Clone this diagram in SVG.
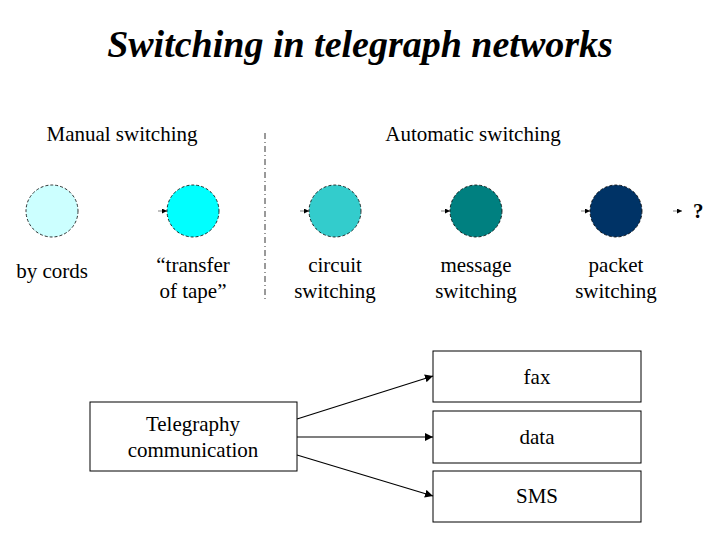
<svg xmlns="http://www.w3.org/2000/svg" width="720" height="540" viewBox="0 0 720 540">
<style>
text{font-family:'Liberation Serif','Times New Roman','DejaVu Serif',serif;fill:#000}
.l{font-size:21px;text-anchor:middle}
.c{stroke:#000;stroke-width:0.8;stroke-dasharray:3,2}
.b{fill:#fff;stroke:#000;stroke-width:1}
.a{stroke:#000;stroke-width:1.2;fill:none;marker-end:url(#m)}
</style>
<defs><marker id="m" viewBox="0 0 10 10" refX="10" refY="5" markerWidth="8" markerHeight="8" markerUnits="userSpaceOnUse" orient="auto"><path d="M0,0L10,5L0,10z" fill="#000"/></marker>
<marker id="s" viewBox="0 0 10 10" refX="10" refY="5" markerWidth="5" markerHeight="5" markerUnits="userSpaceOnUse" orient="auto"><path d="M0,0L10,5L0,10z" fill="#000"/></marker></defs>
<rect width="720" height="540" fill="#fff"/>
<text x="360" y="57" text-anchor="middle" font-size="38" font-weight="bold" font-style="italic" font-family="Liberation Serif, serif">Switching in telegraph networks</text>
<text x="122" y="141" class="l" font-family="Liberation Serif, serif">Manual switching</text>
<text x="473" y="141" class="l" font-family="Liberation Serif, serif">Automatic switching</text>
<line x1="265" y1="133" x2="265" y2="300" stroke="#000" stroke-width="0.8" stroke-dasharray="6,3,1,3"/>
<g id="n1"><circle cx="52" cy="211" r="26" fill="#ccffff" class="c"/><text x="52" y="278" class="l">by cords</text></g>
<g id="n2"><circle cx="193" cy="211" r="26" fill="#00ffff" class="c"/><text x="193" y="272" class="l">“transfer</text><text x="193" y="298" class="l">of tape”</text></g>
<g id="n3"><circle cx="335" cy="211" r="26" fill="#33cccc" class="c"/><text x="335" y="272" class="l">circuit</text><text x="335" y="298" class="l">switching</text></g>
<g id="n4"><circle cx="476" cy="211" r="26" fill="#008080" class="c"/><text x="476" y="272" class="l">message</text><text x="476" y="298" class="l">switching</text></g>
<g id="n5"><circle cx="616" cy="211" r="26" fill="#003366" class="c"/><text x="616" y="272" class="l">packet</text><text x="616" y="298" class="l">switching</text></g>
<text x="693" y="218" font-size="21" font-weight="bold">?</text>
<g id="b0"><rect x="90" y="402" width="207" height="69" class="b"/><text x="193" y="431" class="l">Telegraphy</text><text x="193" y="457" class="l">communication</text></g>
<g id="b1"><rect x="433" y="351" width="208" height="51" class="b"/><text x="537" y="384" class="l">fax</text></g>
<g id="b2"><rect x="433" y="411" width="208" height="52" class="b"/><text x="537" y="444" class="l">data</text></g>
<g id="b3"><rect x="433" y="471" width="208" height="51" class="b"/><text x="537" y="503" class="l">SMS</text></g>
<g id="connectors">
<line x1="158" y1="211" x2="167" y2="211" stroke="#000" stroke-width="0.5" marker-end="url(#s)"/>
<line x1="300" y1="211" x2="309" y2="211" stroke="#000" stroke-width="0.5" marker-end="url(#s)"/>
<line x1="441" y1="211" x2="450" y2="211" stroke="#000" stroke-width="0.5" marker-end="url(#s)"/>
<line x1="581" y1="211" x2="590" y2="211" stroke="#000" stroke-width="0.5" marker-end="url(#s)"/>
<line x1="673" y1="211" x2="682" y2="211" stroke="#000" stroke-width="0.5" marker-end="url(#s)"/>
<line x1="297" y1="419" x2="433" y2="376" class="a"/>
<line x1="297" y1="437" x2="433" y2="437" class="a"/>
<line x1="297" y1="455" x2="433" y2="496" class="a"/>
</g>
</svg>
